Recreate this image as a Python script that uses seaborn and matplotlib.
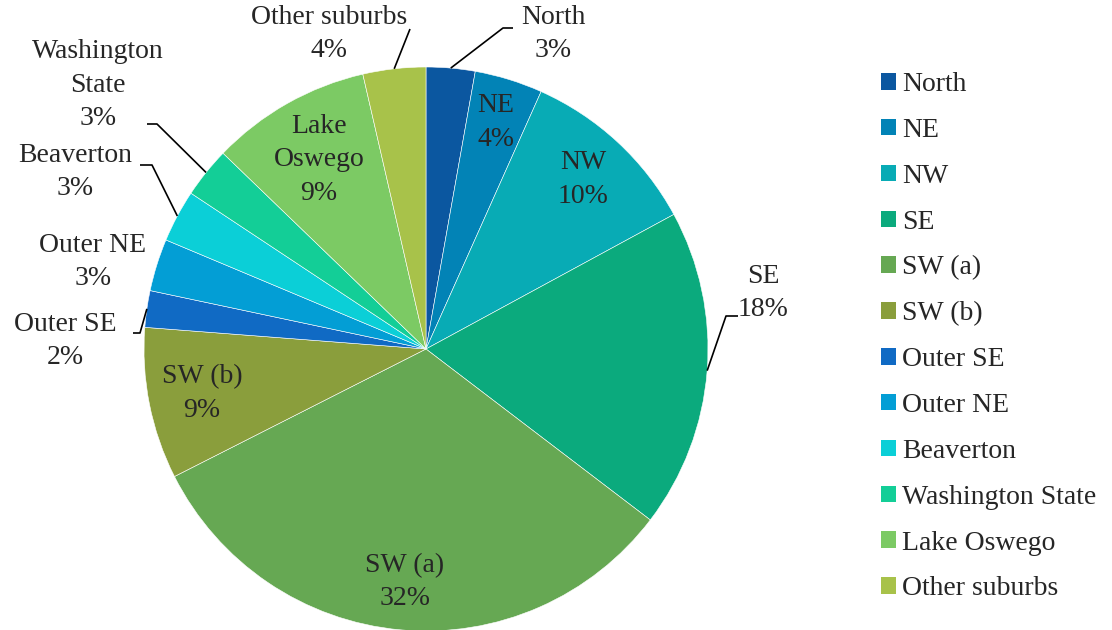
import numpy as np
import matplotlib
matplotlib.use("Agg")
import matplotlib.pyplot as plt
import seaborn as sns
from matplotlib.patches import Patch

# share of respondents by area
areas = ["North", "NE", "NW", "SE", "SW (a)", "SW (b)", "Outer SE", "Outer NE",
         "Beaverton", "Washington State", "Lake Oswego", "Other suburbs"]
shares = [2.8, 3.9, 10.4, 18.3, 32.2, 8.7, 2.1, 3.0, 3.0, 2.9, 9.2, 3.6]
label_names = ["North", "NE", "NW", "SE", "SW (a)", "SW (b)", "Outer SE", "Outer NE",
               "Beaverton", "Washington\nState", "Lake\nOswego", "Other suburbs"]
colors = ["#0B57A0", "#0283B6", "#08ABB5", "#0BAA7D", "#66A853", "#8A9E3C",
          "#106AC4", "#039ED5", "#0BCFD7", "#13CE97", "#7CCA64", "#A8C24A"]

sns.set_theme(style="white")
plt.rcParams["font.family"] = ["Liberation Serif", "DejaVu Serif"]
FS = 20
LS = 1.45

fig = plt.figure(figsize=(11.12, 6.3), dpi=100)
ax = fig.add_axes([0, 0, 1, 1])

wedges, _ = ax.pie(shares, colors=sns.color_palette(colors), startangle=90,
                   counterclock=False, radius=1.0,
                   wedgeprops=dict(edgecolor="white", linewidth=0.4))

# pixel -> data helper for placing annotations (pie centre at 426,349, r=282px)
def px(x, y):
    return ((x - 426) / 282.0, (349 - y) / 282.0)

ax.set_xlim(px(0, 0)[0], px(1112, 0)[0])
ax.set_ylim(px(0, 630)[1], px(0, 0)[1])
ax.set_aspect("auto")
ax.axis("off")

# inside labels: distance from centre (fraction of radius)
inside = {"NE": 0.84, "NW": 0.82, "SW (a)": 0.83, "SW (b)": 0.81, "Lake Oswego": 0.77}
# outside labels: text centre, elbow, end of leader (pixels)
outside = {
    "North": ((553, 34), (503, 28), (513, 28)),
    "Other suburbs": ((329, 34), (410, 29), (410, 29)),
    "Washington State": ((98, 85), (157, 124), (147, 124)),
    "Beaverton": ((75, 172), (152, 165), (140, 165)),
    "Outer NE": ((93, 262), None, None),
    "Outer SE": ((65, 341), (140, 333), (133, 333)),
    "SE": ((763, 293), (726, 316), (738, 316)),
}

for w, name, lab, val in zip(wedges, areas, label_names, shares):
    mid = np.deg2rad((w.theta1 + w.theta2) / 2)
    txt = f"{lab}\n{round(val):d}%"
    if name in inside:
        r = inside[name]
        ax.text(r * np.cos(mid), r * np.sin(mid), txt, ha="center", va="center",
                fontsize=FS, linespacing=LS)
    else:
        tpos, elbow, end = outside[name]
        tx, ty = px(*tpos)
        ax.text(tx, ty, txt, ha="center", va="center", fontsize=FS, linespacing=LS)
        if elbow is not None:
            ex, ey = px(*elbow)
            nx, ny = px(*end)
            ax.plot([np.cos(mid), ex, nx], [np.sin(mid), ey, ny], color="black", lw=1.2,
                    solid_capstyle="butt")

handles = [Patch(facecolor=c, edgecolor="none", label=a) for a, c in zip(areas, colors)]
fig.legend(handles=handles, loc="upper left", bbox_to_anchor=(870 / 1112, 1 - 61 / 630),
           frameon=False, fontsize=FS, handlelength=0.54, handleheight=0.54,
           handletextpad=0.22, labelspacing=0.75, borderaxespad=0)

fig.savefig("out.png", dpi=100)
